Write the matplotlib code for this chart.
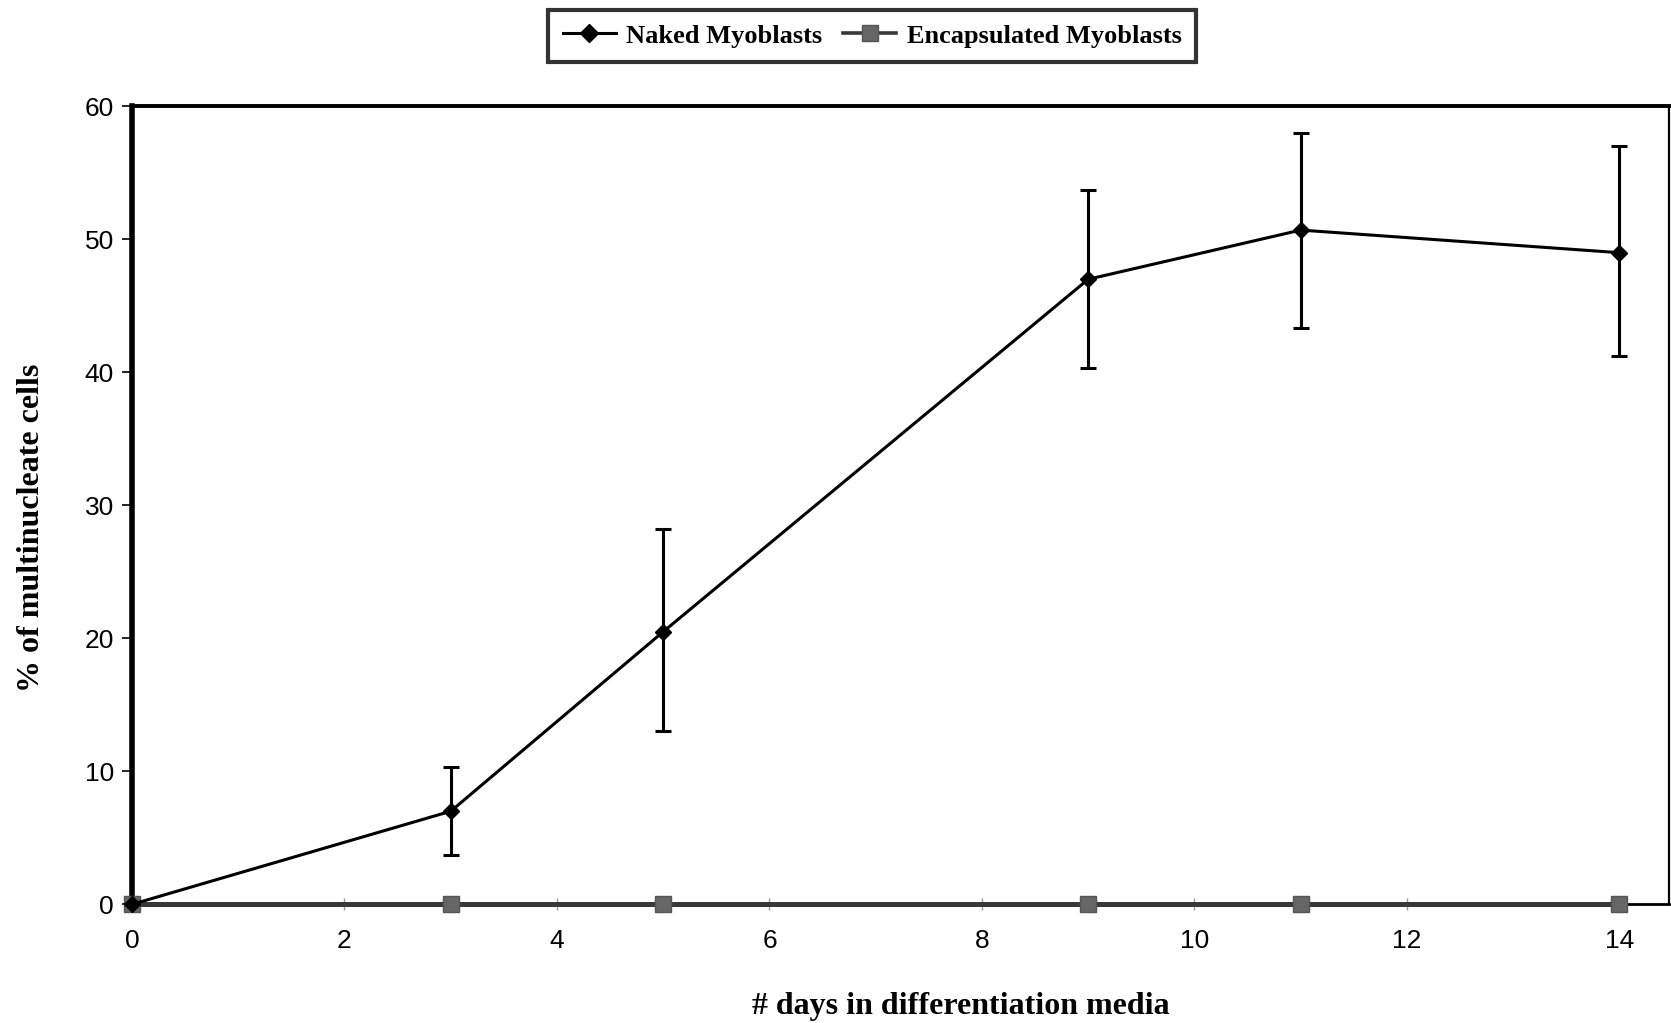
import matplotlib
matplotlib.use("Agg")
import matplotlib.pyplot as plt
from matplotlib.lines import Line2D

days = [0, 3, 5, 9, 11, 14]
naked = [0, 7.0, 20.5, 47.0, 50.7, 49.0]
naked_lower = [0, 3.3, 7.5, 6.7, 7.4, 7.8]
naked_upper = [0, 3.3, 7.7, 6.7, 7.3, 8.0]
encap = [0, 0, 0, 0, 0, 0]
xticks = [0, 2, 4, 6, 8, 10, 12, 14]
yticks = [0, 10, 20, 30, 40, 50, 60]

serif = ["Liberation Serif", "DejaVu Serif"]
sans = ["Liberation Sans", "DejaVu Sans"]

fig = plt.figure(figsize=(16.71, 10.23), dpi=100)
ax = fig.add_axes([0.079, 0.116, 0.92, 0.78])

ax.plot(days, encap, color="#383838", lw=3.6, marker="s", ms=11,
        mfc="#666666", mec="#555555", zorder=3, clip_on=False)
ax.errorbar(days, naked, yerr=[naked_lower, naked_upper], color="black",
            lw=2.2, marker="D", ms=8.5, mfc="black", mec="black",
            elinewidth=2.2, capsize=6, capthick=2.2, zorder=4, clip_on=False)

ax.set_xlim(0, 14.47)
ax.set_ylim(0, 60)
ax.set_xticks(xticks)
ax.set_yticks(yticks)
ax.set_xticklabels([str(t) for t in xticks], fontfamily=sans, fontsize=19)
ax.set_yticklabels([str(t) for t in yticks], fontfamily=sans, fontsize=19)
ax.tick_params(axis="y", direction="out", length=7, width=1.2, pad=6)
ax.tick_params(axis="x", direction="inout", length=8, width=1.0, color="#999999", pad=14)

ax.spines["left"].set_linewidth(4.0)
ax.spines["top"].set_linewidth(2.8)
ax.spines["right"].set_linewidth(1.6)
ax.spines["bottom"].set_linewidth(2.0)

ax.set_xlabel("# days in differentiation media", fontfamily=serif,
              fontweight="bold", fontsize=23)
ax.xaxis.set_label_coords(0.539, -0.110)
ax.set_ylabel("% of multinucleate cells", fontfamily=serif,
              fontweight="bold", fontsize=23)
ax.yaxis.set_label_coords(-0.056, 0.472)

handles = [
    Line2D([], [], color="black", lw=2.2, marker="D", ms=9),
    Line2D([], [], color="#383838", lw=2.6, marker="s", ms=11,
           mfc="#666666", mec="#555555"),
]
leg = fig.legend(handles, ["Naked Myoblasts", "Encapsulated Myoblasts"],
                 loc="center", bbox_to_anchor=(0.522, 0.965), ncol=2,
                 frameon=True, fancybox=False, edgecolor="black",
                 prop={"family": serif, "weight": "bold", "size": 19},
                 handlelength=2.0, handletextpad=0.4, columnspacing=0.8,
                 borderpad=0.55)
leg.get_frame().set_linewidth(3.0)

fig.savefig("out.png", dpi=100)
